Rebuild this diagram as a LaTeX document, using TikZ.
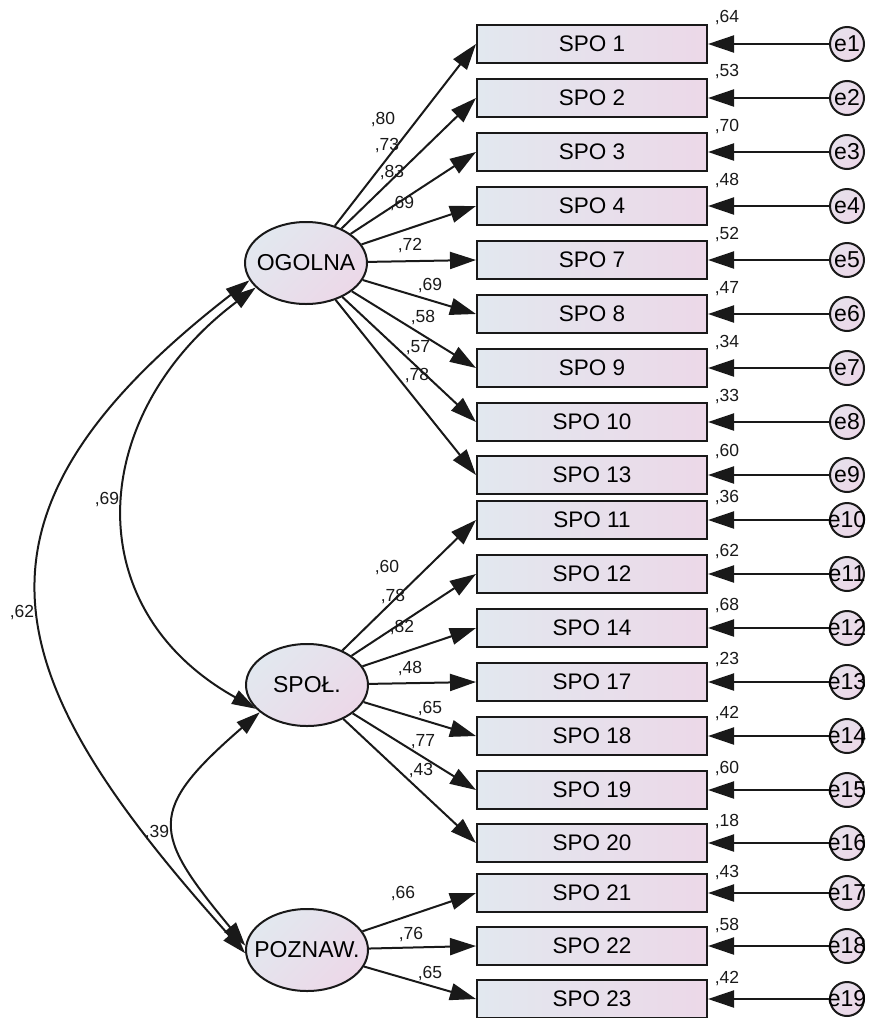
\documentclass[tikz,border=0pt]{standalone}
\usepackage{fontspec}
\setmainfont{Liberation Sans}
\usetikzlibrary{arrows.meta,shapes.geometric}
\definecolor{cA}{RGB}{226,232,239}
\definecolor{cB}{RGB}{236,216,232}
\definecolor{ink}{RGB}{25,25,25}
\begin{document}
\begin{tikzpicture}[x=1pt,y=-1pt,
  obs/.style={draw=ink,line width=2pt,minimum width=230pt,minimum height=38pt,inner sep=0pt,left color=cA,right color=cB,font=\fontsize{22.5}{25}\selectfont},
  lat/.style={ellipse,draw=ink,line width=2pt,minimum width=122pt,minimum height=82pt,inner sep=0pt,top color=cA,bottom color=cB,shading angle=45,font=\fontsize{23}{25}\selectfont},
  err/.style={circle,draw=ink,line width=2pt,minimum size=34pt,inner sep=0pt,top color=cA!50!cB,bottom color=cB,shading angle=45,font=\fontsize{23}{25}\selectfont},
  ld/.style={draw=ink,line width=2pt,-{Triangle[length=26pt,width=17pt]}},
  cov/.style={draw=ink,line width=2pt,{Triangle[length=24pt,width=15pt]}-{Triangle[length=24pt,width=15pt]}},
  num/.style={font=\fontsize{17.5}{19}\selectfont,inner sep=0pt,text=ink},
]
\useasboundingbox (0,0) rectangle (868,1018);

% latent variables
\node[lat] (OG) at (306,263) {\makebox[0pt]{OGOLNA}};
\node[lat] (SP) at (307,685) {\makebox[0pt]{SPOŁ.}};
\node[lat] (PZ) at (307,950) {\makebox[0pt]{POZNAW.}};

% observed variables, errors
\foreach \n/\t/\y/\e/\d in {
  1/SPO 1/44/{,64}/26, 2/SPO 2/98/{,53}/26, 3/SPO 3/152/{,70}/25,
  4/SPO 4/206/{,48}/25, 5/SPO 7/260/{,52}/25, 6/SPO 8/314/{,47}/25,
  7/SPO 9/368/{,34}/25, 8/SPO 10/422/{,33}/25, 9/SPO 13/475/{,60}/23,
  10/SPO 11/520/{,36}/22, 11/SPO 12/574/{,62}/22, 12/SPO 14/628/{,68}/22,
  13/SPO 17/682/{,23}/22, 14/SPO 18/736/{,42}/22, 15/SPO 19/790/{,60}/22,
  16/SPO 20/843/{,18}/22, 17/SPO 21/893/{,43}/21, 18/SPO 22/946/{,58}/21,
  19/SPO 23/999/{,42}/21}{
  \node[obs] (s\n) at (592,\y) {\t};
  \node[err] (e\n) at (847,\y) {\makebox[0pt]{e\n}};
  \draw[ld] (e\n) -- (s\n.east);
  \node[num] (r\n) at (727,\y-\d) {\e};
}

% loadings
\foreach \n in {1,...,9}{\draw[ld] (OG) -- (s\n.west);}
\foreach \n in {10,...,16}{\draw[ld] (SP) -- (s\n.west);}
\foreach \n in {17,18,19}{\draw[ld] (PZ) -- (s\n.west);}

\node[num] (a1) at (383,120) {,80};
\node[num] (a2) at (387,146) {,73};
\node[num] (a3) at (392,173) {,83};
\node[num] (a4) at (402,204) {,69};
\node[num] (a5) at (410,246) {,72};
\node[num] (a6) at (430,286) {,69};
\node[num] (a7) at (423,318) {,58};
\node[num] (a8) at (418,348) {,57};
\node[num] (a9) at (417,376) {,78};
\node[num] (a10) at (387,568) {,60};
\node[num] (a11) at (393,597) {,78};
\node[num] (a12) at (402,628) {,82};
\node[num] (a13) at (410,668) {,48};
\node[num] (a14) at (430,708) {,65};
\node[num] (a15) at (423,742) {,77};
\node[num] (a16) at (421,770) {,43};
\node[num] (a17) at (403,893) {,66};
\node[num] (a18) at (411,934) {,76};
\node[num] (a19) at (430,973) {,65};

% covariances
\draw[cov] (OG.197) .. controls (-60,520) and (0,680) .. (PZ.183);
\draw[cov] (OG.206) .. controls (88,413) and (75,608) .. (SP.205);
\draw[cov] (SP.210) .. controls (146,811) and (152,833) .. (PZ.176);
\node[num] (c1) at (22,613) {,62};
\node[num] (c2) at (107,500) {,69};
\node[num] (c3) at (157,832) {,39};
\end{tikzpicture}
\end{document}
